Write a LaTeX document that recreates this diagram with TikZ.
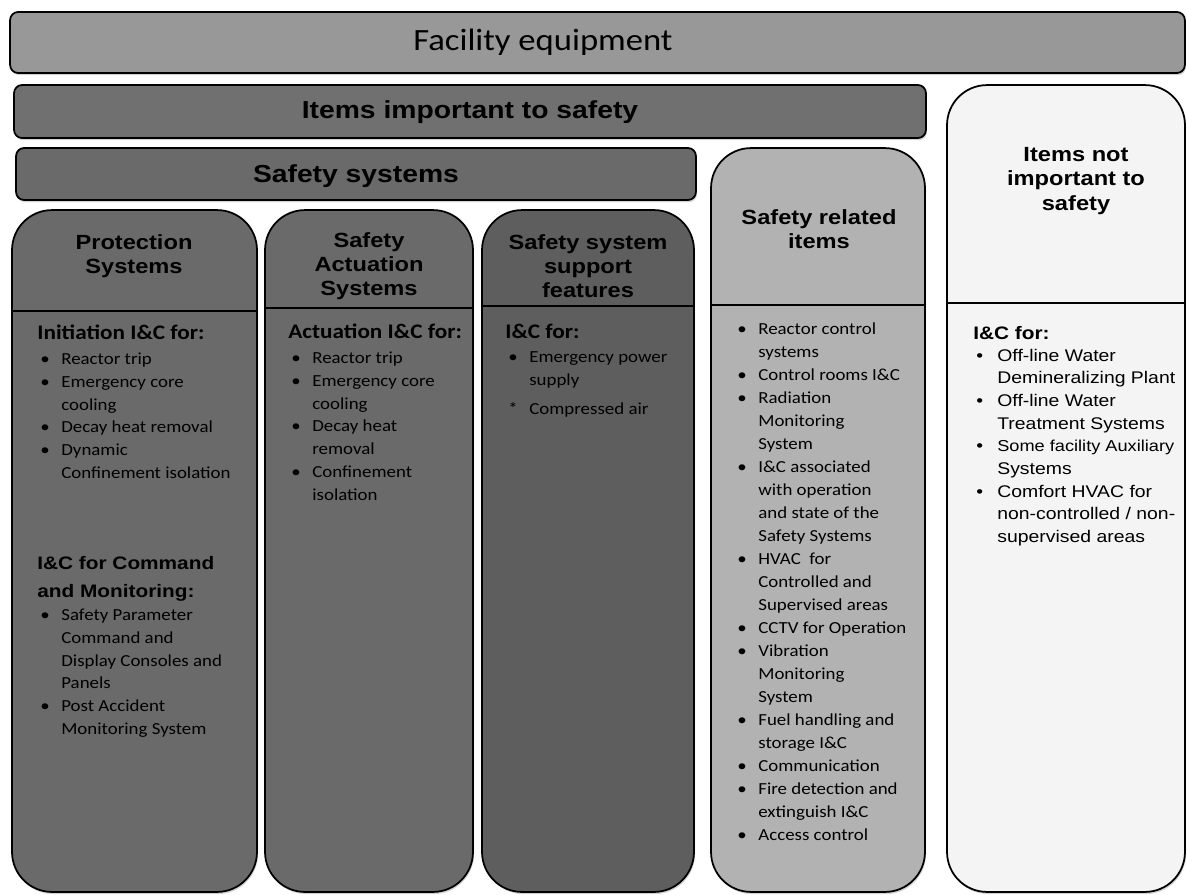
\documentclass[tikz,border=0pt]{standalone}
\usepackage{fontspec}
\setmainfont{Carlito}
\newfontfamily\carlito[FakeStretch=1.12]{Carlito}
\newfontfamily\arialfont[FakeStretch=1.15]{Liberation Sans}
\usetikzlibrary{shadows}
\pgfdeclarelayer{edgelayer}
\pgfdeclarelayer{nodelayer}
\pgfsetlayers{edgelayer,nodelayer,main}
\definecolor{facility}{RGB}{152,152,152}
\definecolor{important}{RGB}{112,112,112}
\definecolor{safetysys}{RGB}{106,106,106}
\definecolor{protect}{RGB}{106,106,106}
\definecolor{support}{RGB}{94,94,94}
\definecolor{related}{RGB}{178,178,178}
\definecolor{notimp}{RGB}{244,244,244}
\tikzstyle{none}=[inner sep=0pt]
\tikzstyle{bar}=[rectangle,rounded corners=0.16cm,draw=black,line width=1pt,drop shadow={shadow xshift=0.6pt,shadow yshift=-1.2pt,opacity=0.35}]
\tikzstyle{column}=[rectangle,rounded corners=0.8cm,draw=black,line width=1pt,drop shadow={shadow xshift=0.6pt,shadow yshift=-1.2pt,opacity=0.35}]
\tikzstyle{divider}=[draw=black,line width=1.5pt]
\tikzstyle{title}=[inner sep=0pt,font=\carlito\fontsize{17.6}{21}\selectfont]
\tikzstyle{bartext}=[inner sep=0pt,font=\arialfont\bfseries\fontsize{14}{17}\selectfont]
\tikzstyle{colhead}=[inner sep=0pt,align=center,font=\arialfont\bfseries\fontsize{11.7}{13.7}\selectfont]
\tikzstyle{listhead}=[inner sep=0pt,anchor=base west,font=\carlito\bfseries\fontsize{11.8}{14}\selectfont]
\tikzstyle{list}=[inner sep=0pt,anchor=north west,align=left,font=\carlito\fontsize{9.6}{13}\selectfont]
\tikzstyle{arialhead}=[inner sep=0pt,anchor=north west,align=left,font=\arialfont\bfseries\fontsize{10.3}{15.4}\selectfont]
\tikzstyle{ariallist}=[inner sep=0pt,anchor=north west,align=left,font=\arialfont\fontsize{9.6}{12.9}\selectfont]
\newcommand{\bul}{\hspace*{0.06cm}\makebox[0.42cm][l]{\textbullet}}
\newcommand{\cont}{\hspace*{0.48cm}}

\begin{document}
\begin{tikzpicture}[x=0.02cm, y=-0.02cm]
	\useasboundingbox (0, 0) rectangle (1187, 894);
	\begin{pgfonlayer}{edgelayer}
		\node [style=bar, fill=facility, minimum width=23.5cm, minimum height=1.22cm] (0) at (597.5, 42.5) {};
		\node [style=bar, fill=important, minimum width=18.24cm, minimum height=1.06cm] (1) at (470, 111.5) {};
		\node [style=bar, fill=safetysys, minimum width=13.6cm, minimum height=1.04cm] (2) at (356, 174) {};
		\node [style=column, fill=protect, minimum width=4.9cm, minimum height=13.64cm] (3) at (134.5, 551) {};
		\node [style=column, fill=protect, minimum width=4.16cm, minimum height=13.64cm] (4) at (369, 551) {};
		\node [style=column, fill=support, minimum width=4.24cm, minimum height=13.64cm] (5) at (588, 551) {};
		\node [style=column, fill=related, minimum width=4.28cm, minimum height=14.88cm] (6) at (818, 520) {};
		\node [style=column, fill=notimp, minimum width=4.76cm, minimum height=16.14cm] (7) at (1066, 488.5) {};
		\draw [style=divider] (3.west |- 0, 311) -- (3.east |- 0, 311);
		\draw [style=divider] (4.west |- 0, 308) -- (4.east |- 0, 308);
		\draw [style=divider] (5.west |- 0, 306) -- (5.east |- 0, 306);
		\draw [style=divider] (6.west |- 0, 305) -- (6.east |- 0, 305);
		\draw [style=divider] (7.west |- 0, 303) -- (7.east |- 0, 303);
	\end{pgfonlayer}
	\begin{pgfonlayer}{nodelayer}
		\node [style=title] (8) at (543, 42) {Facility equipment};
		\node [style=bartext] (9) at (470, 112) {Items important to safety};
		\node [style=bartext] (10) at (356, 176) {Safety systems};
		\node [style=colhead] (11) at (134, 256) {Protection\\Systems};
		\node [style=colhead] (12) at (369, 266) {Safety\\Actuation\\Systems};
		\node [style=colhead] (13) at (588, 266) {Safety system\\support\\features};
		\node [style=colhead] (14) at (819, 229) {Safety related\\items};
		\node [style=colhead] (15) at (1076, 181) {Items not\\important to\\safety};
		\node [style=listhead] (16) at (37, 339.5) {Initiation I\&C for:};
		\node [style=list] (17) at (37, 352.5) {\bul Reactor trip\\\bul Emergency core\\\cont cooling\\\bul Decay heat removal\\\bul Dynamic\\\cont Confinement isolation};
		\node [style=arialhead] (18) at (37, 556.5) {I\&C for Command\\and Monitoring:};
		\node [style=list] (19) at (37, 608.5) {\bul Safety Parameter\\\cont Command and\\\cont Display Consoles and\\\cont Panels\\\bul Post Accident\\\cont Monitoring System};
		\node [style=listhead] (20) at (288, 338.5) {Actuation I\&C for:};
		\node [style=list] (21) at (288, 351.5) {\bul Reactor trip\\\bul Emergency core\\\cont cooling\\\bul Decay heat\\\cont removal\\\bul Confinement\\\cont isolation};
		\node [style=listhead] (22) at (505, 338.5) {I\&C for:};
		\node [style=list] (23) at (505, 351.5) {\bul Emergency power\\\cont supply\\[3.5pt]\hspace*{0.06cm}\makebox[0.42cm][l]{*}Compressed air};
		\node [style=list, font=\carlito\fontsize{9.6}{13.1}\selectfont] (24) at (734, 322.5) {\bul Reactor control\\\cont systems\\\bul Control rooms I\&C\\\bul Radiation\\\cont Monitoring\\\cont System\\\bul I\&C associated\\\cont with operation\\\cont and state of the\\\cont Safety Systems\\\bul HVAC\ \ for\\\cont Controlled and\\\cont Supervised areas\\\bul CCTV for Operation\\\bul Vibration\\\cont Monitoring\\\cont System\\\bul Fuel handling and\\\cont storage I\&C\\\bul Communication\\\bul Fire detection and\\\cont extinguish I\&C\\\bul Access control};
		\node [style=arialhead] (25) at (973, 326.5) {I\&C for:};
		\node [style=ariallist] (26) at (973, 348.5) {\bul Off-line Water\\\cont Demineralizing Plant\\\bul Off-line Water\\\cont Treatment Systems\\\bul {\fontsize{9}{12.9}\selectfont Some facility Auxiliary}\\\cont Systems\\\bul Comfort HVAC for\\\cont non-controlled / non-\\\cont supervised areas};
	\end{pgfonlayer}
\end{tikzpicture}
\end{document}
